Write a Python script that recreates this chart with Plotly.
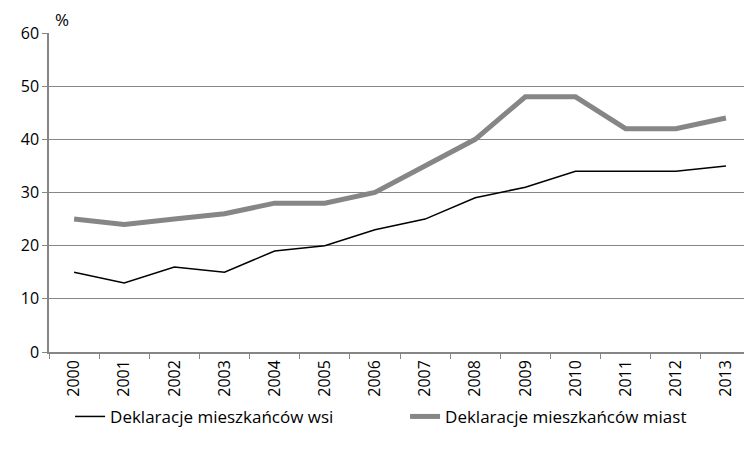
import plotly.graph_objects as go

# Data
years = [str(y) for y in range(2000, 2014)]
wsi = [15, 13, 16, 15, 19, 20, 23, 25, 29, 31, 34, 34, 34, 35]
miast = [25, 24, 25, 26, 28, 28, 30, 35, 40, 48, 48, 42, 42, 44]

FONT = "Open Sans, sans-serif"
GREY = "#868686"

fig = go.Figure()

fig.add_trace(go.Scatter(
    x=years, y=wsi, mode="lines",
    name="Deklaracje mieszkańców wsi",
    line=dict(color="black", width=1.5),
))
fig.add_trace(go.Scatter(
    x=years, y=miast, mode="lines",
    name="Deklaracje mieszkańców miast",
    line=dict(color=GREY, width=5),
))

# page body has an 8px margin, so the figure is a bit smaller than the window
fig.update_layout(
    width=744, height=442,
    margin=dict(l=41, r=1, t=25, b=98),
    plot_bgcolor="white", paper_bgcolor="white",
    font=dict(family=FONT, size=16, color="black"),
    showlegend=True,
    legend=dict(
        orientation="h", x=0.03, xanchor="left", y=-0.147, yanchor="top",
        font=dict(size=17), entrywidth=290, tracegroupgap=0,
    ),
    xaxis=dict(
        type="category", tickangle=-90, automargin=False,
        showline=True, linecolor=GREY, linewidth=1.5,
        ticks="outside", tickson="boundaries", ticklen=5, tickcolor=GREY,
        showgrid=False, range=[-0.5, 13.5],
    ),
    yaxis=dict(
        range=[0, 60], dtick=10, automargin=False,
        showline=True, linecolor=GREY, linewidth=1.5,
        ticks="outside", ticklen=5, tickcolor=GREY,
        showgrid=True, gridcolor=GREY, gridwidth=1.2,
        zeroline=False,
    ),
    annotations=[dict(
        text="%", xref="paper", yref="paper", x=0.006, y=1.0,
        xanchor="left", yanchor="bottom", showarrow=False,
        font=dict(size=17),
    )],
)

fig.write_html("out.html")
